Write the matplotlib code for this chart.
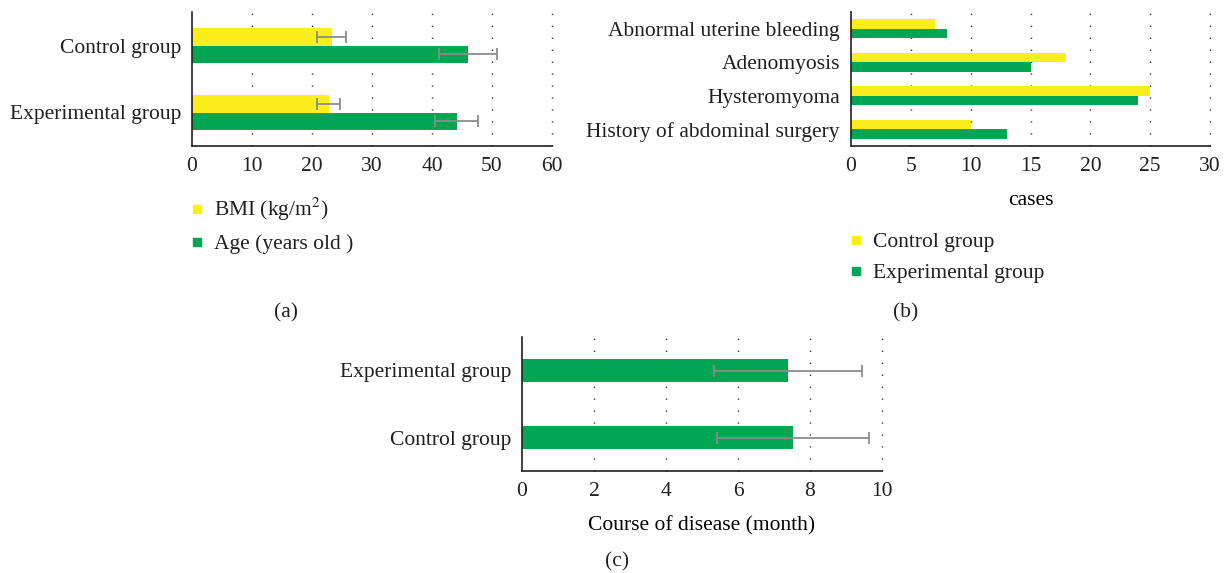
import matplotlib.pyplot as plt
from matplotlib.lines import Line2D
import numpy as np

# Panel (a): BMI and age by group
groups_a = ['Experimental group', 'Control group']
bmi_mean = [22.8, 23.3]
bmi_sd = [1.9, 2.4]
age_mean = [44.1, 46.0]
age_sd = [3.6, 4.8]

# Panel (b): case counts by diagnosis
conditions = ['History of abdominal surgery', 'Hysteromyoma', 'Adenomyosis',
              'Abnormal uterine bleeding']
control_cases = [10, 25, 18, 7]
experimental_cases = [13, 24, 15, 8]

# Panel (c): course of disease
groups_c = ['Control group', 'Experimental group']
course_mean = [7.53, 7.38]
course_sd = [2.1, 2.06]

YELLOW = '#FCEE1C'
GREEN = '#00A651'
ERR = '#8C8C8C'
FS = 15.5

plt.rcParams['font.family'] = ['Liberation Serif', 'DejaVu Serif']
plt.rcParams['mathtext.fontset'] = 'stix'
plt.rcParams['font.size'] = FS
plt.rcParams['text.color'] = '#231F20'

W, H = 1230, 573
fig = plt.figure(figsize=(W / 100, H / 100), dpi=100)


def box(x0, x1, ytop, ybot):
    return [x0 / W, 1 - ybot / H, (x1 - x0) / W, (ybot - ytop) / H]


def style(ax, ticks):
    ax.set_xticks(ticks)
    ax.set_xlim(ticks[0], ticks[-1])
    for s in ['top', 'right']:
        ax.spines[s].set_visible(False)
    for s in ['left', 'bottom']:
        ax.spines[s].set_color('#231F20')
        ax.spines[s].set_linewidth(1.2)
    ax.tick_params(length=0, labelsize=FS, colors='#231F20', pad=8)
    ax.set_axisbelow(True)
    for t in ticks[1:]:
        ax.axvline(t, color='#333333', lw=1.0, linestyle=(0, (1, 7.6)),
                   zorder=0, clip_on=False)


err_kw = dict(ecolor=ERR, elinewidth=1.3, capsize=4, capthick=1.3)
leg_kw = dict(loc='upper left', frameon=False, handletextpad=0.3,
              labelspacing=0.5, handlelength=1.0, fontsize=FS)

# (a)
ax = fig.add_axes(box(192, 552, 12, 146))
y = np.arange(len(groups_a))
h = 0.26
ax.barh(y + h / 2, bmi_mean, h, xerr=bmi_sd, color=YELLOW, error_kw=err_kw)
ax.barh(y - h / 2, age_mean, h, xerr=age_sd, color=GREEN, error_kw=err_kw)
ax.set_yticks(y, groups_a)
ax.set_ylim(-0.5, 1.5)
style(ax, list(range(0, 61, 10)))
handles = [Line2D([], [], marker='s', ls='', color=YELLOW, markersize=6),
           Line2D([], [], marker='s', ls='', color=GREEN, markersize=6)]
ax.legend(handles, ['BMI (kg/m$^2$)', 'Age (years old )'],
          bbox_to_anchor=(-0.07, -0.23), **leg_kw)

# (b)
ax = fig.add_axes(box(851, 1210, 12, 146))
y = np.arange(len(conditions))
h = 0.28
ax.barh(y + h / 2, control_cases, h, color=YELLOW)
ax.barh(y - h / 2, experimental_cases, h, color=GREEN)
ax.set_yticks(y, conditions)
ax.set_ylim(-0.5, 3.5)
style(ax, list(range(0, 31, 5)))
ax.set_xlabel('cases', fontsize=FS, labelpad=11)
ax.legend(handles, ['Control group', 'Experimental group'],
          bbox_to_anchor=(-0.07, -0.50), **leg_kw)

# (c)
ax = fig.add_axes(box(522, 882, 337, 471))
y = np.arange(len(groups_c))
ax.barh(y, course_mean, 0.34, xerr=course_sd, color=GREEN, error_kw=err_kw)
ax.set_yticks(y, groups_c)
ax.set_ylim(-0.5, 1.5)
style(ax, list(range(0, 11, 2)))
ax.set_xlabel('Course of disease (month)', fontsize=FS, labelpad=11)

fig.text(286 / W, 1 - 313 / H, '(a)', ha='center', va='center', fontsize=FS)
fig.text(906 / W, 1 - 313 / H, '(b)', ha='center', va='center', fontsize=FS)
fig.text(617 / W, 1 - 562 / H, '(c)', ha='center', va='center', fontsize=FS)

fig.savefig('out.png', dpi=100)
